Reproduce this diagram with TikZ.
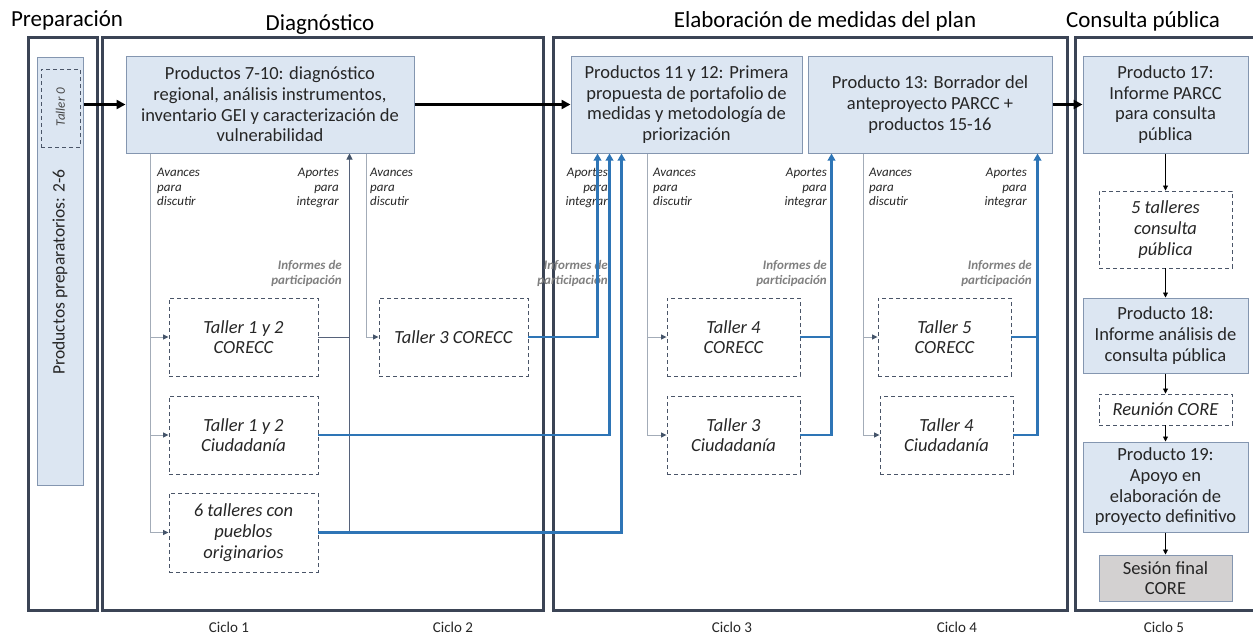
\documentclass[tikz,border=0pt]{standalone}
\usepackage{fontspec}
\setmainfont{Carlito}
\usetikzlibrary{arrows.meta,calc}
\definecolor{panelc}{HTML}{3B4455}
\definecolor{prodfill}{HTML}{DCE6F2}
\definecolor{prodline}{HTML}{8496B0}
\definecolor{dashc}{HTML}{4A5568}
\definecolor{bluec}{HTML}{2E75B6}
\definecolor{avc}{HTML}{A3ACB8}
\definecolor{apc}{HTML}{56627A}
\definecolor{tipc}{HTML}{44546A}
\definecolor{sesfill}{HTML}{D3D1D1}
\definecolor{infc}{HTML}{808080}
\definecolor{txtc}{HTML}{262626}
\newcommand\bxfont{\fontsize{18.5}{20.7}\selectfont}
\newcommand\lbfont{\fontsize{13}{14.7}\selectfont\itshape}
\newcommand\ttlfont{\fontsize{23}{26}\selectfont}
\begin{document}
\begin{tikzpicture}[x=1pt,y=-1pt,
  panelbox/.style={draw=panelc,line width=3pt},
  prod/.style={draw=prodline,fill=prodfill,line width=1pt,inner sep=0pt,align=center,font=\bxfont,text=txtc},
  ses/.style={prod,fill=sesfill},
  dbox/.style={draw=dashc,dash pattern=on 4pt off 3pt,line width=0.9pt,inner sep=0pt,align=center,font=\bxfont\itshape,text=txtc},
  ttl/.style={font=\ttlfont,text=black,inner sep=0pt},
  ciclo/.style={font=\fontsize{15}{17}\selectfont,text=txtc,inner sep=0pt,anchor=base},
  lbl/.style={font=\lbfont,text=txtc,inner sep=0pt},
  inf/.style={font=\lbfont\bfseries,text=infc,inner sep=0pt,align=right,anchor=north east},
  bigarrow/.style={line width=3pt,black,-{Triangle[length=9pt,width=9pt]}},
  smallarrow/.style={line width=0.8pt,black,-{Triangle[length=5pt,width=5pt]}},
  avline/.style={line width=0.9pt,avc},
  avarrow/.style={avline,-{Triangle[length=5.5pt,width=5pt,color=tipc]}},
  apline/.style={line width=1pt,apc},
  aparrow/.style={apline,-{Triangle[length=6pt,width=6pt,color=tipc]}},
  bline/.style={line width=2.6pt,bluec},
  barrow/.style={bline,-{Triangle[length=7pt,width=7.5pt]}}
]
\clip (0,0) rectangle (1253,635);
\fill[white] (0,0) rectangle (1253,635);

% titles
\node[ttl] (tprep) at (67,20) {Preparación};
\node[ttl] (tdiag) at (320,25) {Diagnóstico};
\node[ttl] (telab) at (825,21) {Elaboración de medidas del plan};
\node[ttl] (tcons) at (1143,21) {Consulta pública};

% panels
\draw[panelbox] (28,37) rectangle (97,610);
\draw[panelbox] (102,37) rectangle (543,610);
\draw[panelbox] (553,37) rectangle (1067,610);
\draw[panelbox] (1075,37) rectangle (1270,610);

% ciclo labels
\node[ciclo] (c1) at (229,632.5) {Ciclo 1};
\node[ciclo] (c2) at (453,632.5) {Ciclo 2};
\node[ciclo] (c3) at (732,632.5) {Ciclo 3};
\node[ciclo] (c4) at (957,632.5) {Ciclo 4};
\node[ciclo] (c5) at (1164,632.5) {Ciclo 5};

% preparation
\node[prod,minimum width=46pt,minimum height=428pt] (prep) at (60,271) {};
\node[rotate=90,font=\fontsize{17.5}{20}\selectfont,text=txtc] (preptxt) at (60,272) {Productos preparatorios: 2-6};
\node[dbox,minimum width=39pt,minimum height=78pt] (t0) at (60.5,108) {};
\node[rotate=90,font=\fontsize{13}{15}\selectfont\itshape,text=txtc!85] (t0txt) at (60.5,107) {Taller 0};

% product boxes
\node[prod,minimum width=288pt,minimum height=97pt] (p710) at (270,104.5)
  {Productos 7-10: diagnóstico\\regional, análisis instrumentos,\\inventario GEI y caracterización de\\vulnerabilidad};
\node[prod,minimum width=231pt,minimum height=97pt] (p1112) at (686.5,104.5)
  {Productos 11 y 12: Primera\\propuesta de portafolio de\\medidas y metodología de\\priorización};
\node[prod,minimum width=244pt,minimum height=97pt] (p13) at (930,104.5)
  {Producto 13: Borrador del\\anteproyecto PARCC +\\productos 15-16};
\node[prod,minimum width=165pt,minimum height=97pt] (p17) at (1165.5,104.5)
  {Producto 17:\\Informe PARCC\\para consulta\\pública};
\node[dbox,minimum width=133pt,minimum height=77pt] (t5cp) at (1165.5,229.5)
  {5 talleres\\consulta\\pública};
\node[prod,minimum width=165pt,minimum height=75pt] (p18) at (1165.5,335.5)
  {Producto 18:\\Informe análisis de\\consulta pública};
\node[dbox,minimum width=133pt,minimum height=31pt] (rcore) at (1165.5,409.5)
  {Reunión CORE};
\node[prod,minimum width=165pt,minimum height=90pt] (p19) at (1165.5,487)
  {Producto 19:\\Apoyo en\\elaboración de\\proyecto definitivo};
\node[ses,minimum width=133pt,minimum height=46pt] (sfc) at (1165.5,578)
  {Sesión final\\CORE};

% workshops
\node[dbox,minimum width=149pt,minimum height=78pt] (t12c) at (243.5,337) {Taller 1 y 2\\CORECC};
\node[dbox,minimum width=149pt,minimum height=78pt] (t12ciud) at (243.5,435) {Taller 1 y 2\\Ciudadanía};
\node[dbox,minimum width=149pt,minimum height=79pt] (t6) at (243.5,532.5) {6 talleres con\\pueblos\\originarios};
\node[dbox,minimum width=149pt,minimum height=78pt] (t3c) at (453.5,337) {Taller 3 CORECC};
\node[dbox,minimum width=133pt,minimum height=78pt] (t4c) at (733.5,337) {Taller 4\\CORECC};
\node[dbox,minimum width=133pt,minimum height=78pt] (t3ciud) at (733.5,435) {Taller 3\\Ciudadanía};
\node[dbox,minimum width=133pt,minimum height=78pt] (t5c) at (944.5,337) {Taller 5\\CORECC};
\node[dbox,minimum width=133pt,minimum height=78pt] (t4ciud) at (946.5,435) {Taller 4\\Ciudadanía};

% labels
\node[lbl,align=left,anchor=north west] (la1) at (157,168) {Avances\\para\\discutir};
\node[lbl,align=right,anchor=north east] (lp1) at (339,168) {Aportes\\para\\integrar};
\node[inf] (li1) at (342,260) {Informes de\\participación};
\node[lbl,align=left,anchor=north west] (la2) at (370,168) {Avances\\para\\discutir};
\node[lbl,align=right,anchor=north east] (lp2) at (608,168) {Aportes\\para\\integrar};
\node[inf] (li2) at (608,260) {Informes de\\participación};
\node[lbl,align=left,anchor=north west] (la3) at (653,168) {Avances\\para\\discutir};
\node[lbl,align=right,anchor=north east] (lp3) at (827,168) {Aportes\\para\\integrar};
\node[inf] (li3) at (827,260) {Informes de\\participación};
\node[lbl,align=left,anchor=north west] (la4) at (869,168) {Avances\\para\\discutir};
\node[lbl,align=right,anchor=north east] (lp4) at (1027,168) {Aportes\\para\\integrar};
\node[inf] (li4) at (1032,260) {Informes de\\participación};

% main flow
\draw[bigarrow] (prep.east |- p710.west) -- (p710.west);
\draw[bigarrow] (p710.east) -- (p1112.west);
\draw[bigarrow] (p13.east) -- (p17.west);
\draw[smallarrow] (p17.south) -- (t5cp.north);
\draw[smallarrow] (t5cp.south) -- (p18.north);
\draw[smallarrow] (p18.south) -- (rcore.north);
\draw[smallarrow] (rcore.south) -- (p19.north);
\draw[smallarrow] (p19.south) -- (sfc.north);

% coordinates on box bottoms
\coordinate (av1) at ($(p710.south west)+(25,0)$);
\coordinate (ap1) at ($(p710.south east)+(-65,0)$);
\coordinate (av2) at ($(p710.south east)+(-48,0)$);
\coordinate (b1) at ($(p1112.south west)+(27,0)$);
\coordinate (b2) at ($(p1112.south west)+(39,0)$);
\coordinate (b3) at ($(p1112.south west)+(51,0)$);
\coordinate (av3) at ($(p1112.south west)+(77,0)$);
\coordinate (b4) at ($(p13.south west)+(24,0)$);
\coordinate (av4) at ($(p13.south west)+(56,0)$);
\coordinate (b5) at ($(p13.south west)+(230,0)$);

% diagnostic connectors
\draw[avarrow] (av1) |- (t6.west);
\draw[avarrow] (av1 |- t12c.west) -- (t12c.west);
\draw[avarrow] (av1 |- t12ciud.west) -- (t12ciud.west);
\draw[apline] (t12c.east) -- (ap1 |- t12c.east);
\draw[aparrow] (ap1 |- t6.east) -- (ap1);
\draw[avarrow] (av2) |- (t3c.west);

% elaboration connectors
\draw[avarrow] (av3) |- (t3ciud.west);
\draw[avarrow] (av3 |- t4c.west) -- (t4c.west);
\draw[avarrow] (av4) |- (t4ciud.west);
\draw[avarrow] (av4 |- t5c.west) -- (t5c.west);

% blue connectors
\draw[barrow] (t3c.east) -| (b1);
\draw[barrow] (t12ciud.east) -| (b2);
\draw[barrow] (t6.east) -| (b3);
\draw[bline] (t4c.east) -- (t4c.east -| b4);
\draw[barrow] (t3ciud.east) -| (b4);
\draw[bline] (t5c.east) -- (t5c.east -| b5);
\draw[barrow] (t4ciud.east) -| (b5);
\end{tikzpicture}
\end{document}
